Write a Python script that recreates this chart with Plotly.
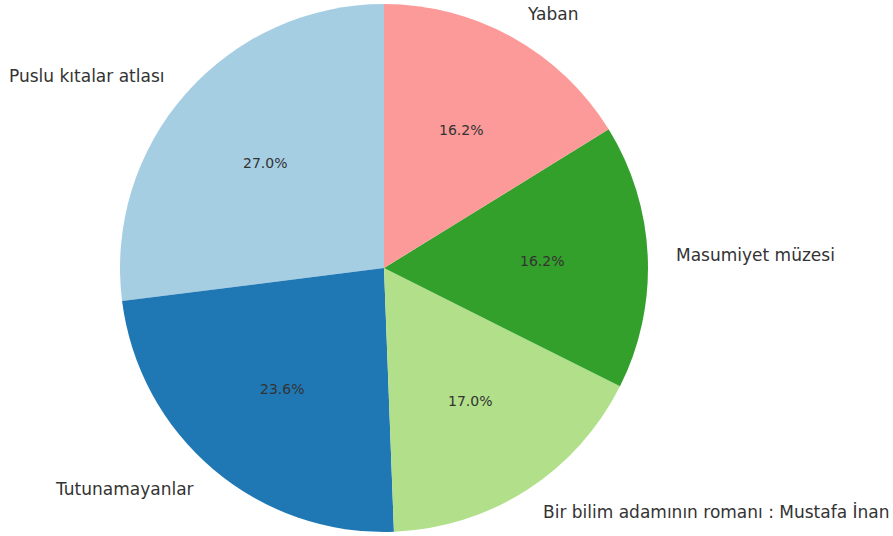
import numpy as np
import plotly.graph_objects as go

# { data
labels = ['Puslu kıtalar atlası', 'Tutunamayanlar',
          'Bir bilim adamının romanı : Mustafa İnan',
          'Masumiyet müzesi', 'Yaban']
values = [27.0, 23.6, 17.0, 16.2, 16.2]
colors = ['#a6cee3', '#1f78b4', '#b2df8a', '#33a02c', '#fb9a99']
# }

W, H = 893, 536
cx, cy, r = 384, 268, 264
total = sum(values)

fig = go.Figure()

# plotly's counterclockwise pie ends the first slice at `rotation`,
# so turn it back by the first slice to start at 12 o'clock
fig.add_trace(go.Pie(labels=labels,
                     values=values,
                     marker=dict(colors=colors, line=dict(width=0)),
                     sort=False,
                     direction='counterclockwise',
                     rotation=-360.0 * values[0] / total,
                     textinfo='none',
                     hoverinfo='label+percent',
                     showlegend=False,
                     domain=dict(x=[(cx - r) / W, (cx + r) / W],
                                 y=[(H - cy - r) / H, (H - cy + r) / H])))

# { labels like matplotlib: name at 1.1r, percent at 0.6r
start = 90.0
for lab, v in zip(labels, values):
    span = 360.0 * v / total
    mid = np.radians(start + span / 2)
    start += span
    xt, yt = np.cos(mid), np.sin(mid)
    fig.add_annotation(x=(cx + 1.1 * r * xt) / W,
                       y=(H - cy + 1.1 * r * yt) / H,
                       xref='paper', yref='paper',
                       text=lab, showarrow=False,
                       xanchor='left' if xt > 0 else 'right',
                       yanchor='middle',
                       font=dict(family='DejaVu Sans', size=17, color='#333333'))
    fig.add_annotation(x=(cx + 0.6 * r * xt) / W,
                       y=(H - cy + 0.6 * r * yt) / H,
                       xref='paper', yref='paper',
                       text=f'{100 * v / total:.1f}%', showarrow=False,
                       xanchor='center', yanchor='middle',
                       font=dict(family='DejaVu Sans', size=14, color='#333333'))
# }

fig.update_layout(width=W, height=H,
                  margin=dict(l=0, r=0, t=0, b=0),
                  paper_bgcolor='white',
                  plot_bgcolor='white')

fig.write_html("out.html",
               config=dict(displayModeBar=False),
               post_script="document.body.style.margin='0';")
